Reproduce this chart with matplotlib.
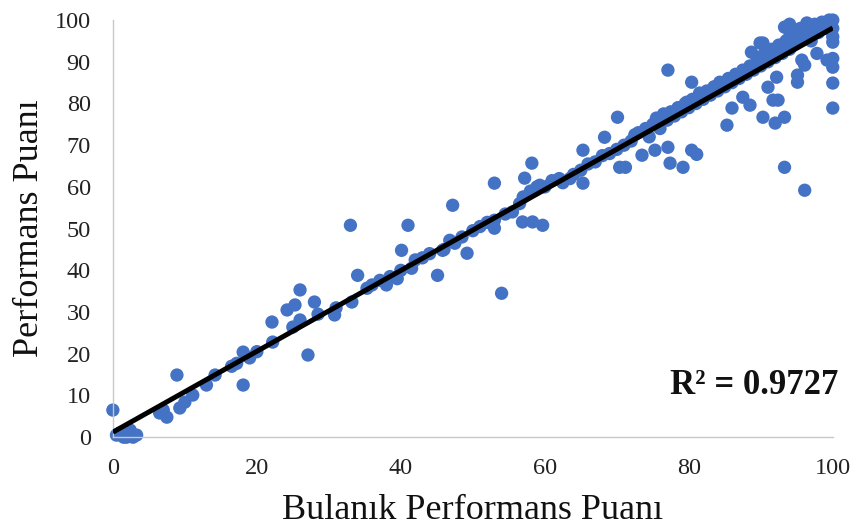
import matplotlib
matplotlib.use("Agg")
import matplotlib.pyplot as plt
import numpy as np

# Scatter data
points = [
    (0, 6.5), (0.5, 0.5), (1, 1), (1.5, 0), (1.9, 0), (2.4, 1.7), (2.8, 0), (3.3, 0.5),
    (6.5, 5.8), (7.5, 4.8), (7, 6.5), (9.3, 7), (10, 8.4), (11.1, 10.1), (8.9, 14.9),
    (13, 12.5), (14.2, 14.9), (16.5, 17), (17.2, 17.7), (18.1, 20.4), (18.1, 12.5),
    (19, 19), (20, 20.5),
    (22.2, 22.8), (22.1, 27.6), (24.2, 30.5), (25.3, 31.7), (25, 26.4), (26, 28.1),
    (26, 35.3), (27.1, 19.7), (28, 32.4), (28.5, 29.5), (30.8, 29.3), (31, 31),
    (33.2, 32.4), (33, 50.8), (34, 38.8), (35.3, 35.7), (36, 36.5), (37.1, 37.6),
    (38, 36.5), (38.5, 38.5), (39.5, 38), (40.1, 44.8), (40, 40), (41, 50.8),
    (41.5, 40.5), (42, 42.5), (43, 43), (44, 44), (45.1, 38.8),
    (46, 45), (46.8, 47.2), (45.8, 44.8), (47.2, 55.6), (47.5, 46.5), (48.5, 48),
    (49.2, 44.1), (50, 49.5), (51, 50.5), (52, 51.5), (53, 50.1), (53, 52), (53, 60.9),
    (54, 34.5), (54.5, 53.5), (55.5, 54), (56.5, 56), (57, 57.6), (57.2, 62.1),
    (58.2, 65.7), (56.9, 51.6), (58.3, 51.6), (59.7, 50.8), (59.3, 60.4), (58, 59),
    (58.9, 60), (60, 60), (61, 61.5), (62, 62), (62.5, 61), (63.5, 62), (64, 63),
    (65.3, 60.9), (65.3, 68.8), (65, 64), (66, 65.5), (67, 66), (68.3, 71.9),
    (68, 67.5), (69, 68), (70, 69), (70.1, 76.7), (70.4, 64.7), (71.2, 64.7),
    (71, 70), (72, 71), (72.5, 72.5), (73.5, 67.6), (73, 73), (74, 74), (74.5, 72),
    (75, 75), (75.3, 68.8), (75.5, 76.5), (76, 74), (76.5, 77.5), (77, 76),
    (77.1, 69.5), (77.4, 65.7), (77.1, 88), (77.5, 78), (78, 77), (78.5, 79), (79, 78),
    (79.2, 64.7), (79.5, 80), (79.7, 80.3), (80, 79), (80.4, 85.1), (80.4, 68.8),
    (81.1, 67.8), (80.5, 81), (81, 80), (81.5, 82.5), (82, 81), (82.5, 83), (83, 82),
    (83.3, 83.2), (83.5, 84), (84, 83), (84.3, 85.1), (84.5, 85), (85, 84),
    (85.3, 74.8), (85.5, 86), (86, 85), (86, 78.9), (86.5, 87), (87, 86),
    (87.5, 81.5), (87.5, 88), (88, 87), (88.5, 79.6), (88.5, 89), (88.7, 92.3),
    (89, 88), (89.5, 91), (89.9, 94.5), (90, 89), (90.3, 94.5), (90.3, 76.7),
    (90.5, 92), (91, 83.9), (91, 90), (91.5, 93), (91.7, 80.8), (92, 91), (92, 75.3),
    (92.4, 80.8), (92.2, 86.3), (92.5, 94), (93, 92), (93.3, 76.7), (93.3, 64.7),
    (93.3, 98.3), (93.5, 95), (94, 96), (94, 93), (94.5, 97), (94, 99), (95, 95),
    (95.1, 85.1), (95.1, 86.8), (95.7, 90.4), (96.1, 89.2), (95.5, 98), (96, 96),
    (96.1, 59.2), (96.4, 99.3), (96.5, 97), (97, 98), (97, 95), (97.5, 99),
    (97.8, 92), (98, 97), (98.5, 99.5), (99, 98), (99.2, 90.4), (99.5, 100),
    (100, 100), (100, 98), (100, 96), (100, 94.7), (100, 90.8), (100, 88.7),
    (100, 84.9), (100, 78.9),
]
x_vals = [p[0] for p in points]
y_vals = [p[1] for p in points]

# Linear trend line (as drawn in the picture)
trend_x = [0, 100]
trend_y = [1.2, 98.1]
r2_text = "R² = 0.9727"

x_ticks = [0, 20, 40, 60, 80, 100]
y_ticks = [0, 10, 20, 30, 40, 50, 60, 70, 80, 90, 100]

plt.rcParams['font.family'] = ['Liberation Serif', 'DejaVu Serif']

fig = plt.figure(figsize=(8.55, 5.28), dpi=100)
ax = fig.add_axes([0.132, 0.172, 0.842, 0.790])

ax.scatter(x_vals, y_vals, s=92, color='#4472C4', edgecolors='none', zorder=2, clip_on=False)
ax.plot(trend_x, trend_y, color='black', linewidth=3.6, zorder=3, solid_capstyle='butt')

ax.set_xlim(0, 100)
ax.set_ylim(0, 100)
ax.set_xticks(x_ticks)
ax.set_yticks(y_ticks)
ax.tick_params(axis='both', length=0, labelsize=17.5, colors='#222222')
ax.tick_params(axis='x', pad=15)
ax.tick_params(axis='y', pad=16)

for s in ['top', 'right']:
    ax.spines[s].set_visible(False)
for s in ['left', 'bottom']:
    ax.spines[s].set_color('#c8c8c8')
    ax.spines[s].set_linewidth(1.0)

ax.set_xlabel('Bulanık Performans Puanı', fontsize=26, labelpad=11, color='#111111')
ax.set_ylabel('Performans Puanı', fontsize=26, labelpad=6, color='#111111')

ax.text(1.008, 0.125, r2_text, transform=ax.transAxes, ha='right', va='center',
        fontsize=25, fontweight='bold', color='#111111')

fig.savefig('out.png', dpi=100)
